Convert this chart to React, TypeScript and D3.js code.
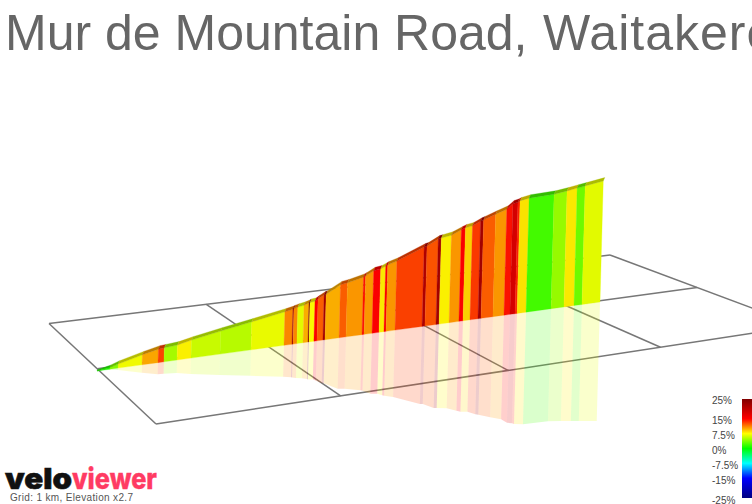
import React from "react";
import * as d3 from "d3";

const WIDTH = 752;
const HEIGHT = 504;

const titleLead = "Mur de Mountain Road,";
const titleTail = "Waitakere";
const gridNote = "Grid: 1 km, Elevation x2.7";
const logoDark = "velo";
const logoPink = "viewer";

// Profile: kilometre mark and elevation (m) at the end of each segment, with its gradient (%)
const segmentEndKm = [
  0.076, 0.124, 0.265, 0.359, 0.394, 0.471, 0.553, 0.724, 0.906, 1.1, 1.147, 1.153, 1.176, 1.212, 1.241,
  1.247, 1.276, 1.294, 1.329, 1.341, 1.424, 1.465, 1.559, 1.571, 1.618, 1.659, 1.688, 1.7, 1.753, 1.912,
  1.929, 1.994, 2.012, 2.071, 2.129, 2.153, 2.194, 2.241, 2.259, 2.329, 2.394, 2.429, 2.459, 2.471, 2.524,
  2.671, 2.747, 2.806, 2.853, 2.959,
];
const segmentEndElevation = [
  4, 8, 20, 27, 28, 30, 36, 46, 56, 67, 70, 71, 73, 75, 78,
  79, 80, 84, 90, 91, 106, 108, 115, 117, 125, 127, 131, 133, 138, 159,
  160, 171, 172, 175, 183, 186, 188, 195, 197, 205, 212, 221, 223, 225, 228,
  229, 232, 235, 237, 242,
];
const segmentGradient = [
  1, 4, 7.2, 10, 13, 5, 7.8, 6, 5.5, 7, 11, 23, 11, 6.8, 9.8,
  25, 7.5, 15, 12.2, 22, 9.8, 12.2, 10.5, 14.5, 10.5, 15, 8, 15, 10.5, 13.1,
  21, 12.5, 22, 7.8, 10.5, 15, 8.7, 13.3, 22, 12.2, 10.5, 14.5, 18, 14, 8.2,
  2, 4.5, 8, 3.3, 6.8,
];

const legendTicks = ["25%", "15%", "7.5%", "0%", "-7.5%", "-15%", "-25%"];
const legendValues = [25, 15, 7.5, 0, -7.5, -15, -25];
const legendColors = ["#800000", "#ff0000", "#ffff00", "#00ff00", "#00ffff", "#0000ff", "#000080"];

const gridColumns = [0, 1, 2, 3, 4];
const gridRows = [0, 1, 2];

const routeLength = segmentEndKm[segmentEndKm.length - 1];
const maxElevation = segmentEndElevation[segmentEndElevation.length - 1];

const xScale = d3.scaleLinear().domain([0, routeLength]).range([97, 600]);
const baseScale = d3.scaleLinear().domain([0, routeLength]).range([371, 302]);
const heightScale = d3.scaleLinear().domain([0, maxElevation]).range([0, 121]);
const colorScale = d3.scaleLinear<string>().domain(legendValues).range(legendColors).interpolate(d3.interpolateRgb);
const legendY = d3.scaleLinear().domain([25, -25]).range([400.5, 500.5]);

// Ground plane: 4 x 2 km grid in perspective
function makeGroundProjection() {
  const [x0, y0, x1, y1, x2, y2, x3, y3] = [49, 323.5, 610, 255, 800, 326, 156, 424];
  const dx1 = x1 - x2, dx2 = x3 - x2, sx = x0 - x1 + x2 - x3;
  const dy1 = y1 - y2, dy2 = y3 - y2, sy = y0 - y1 + y2 - y3;
  const den = dx1 * dy2 - dx2 * dy1;
  const g = (sx * dy2 - dx2 * sy) / den;
  const h = (dx1 * sy - sx * dy1) / den;
  const a = x1 - x0 + g * x1, b = x3 - x0 + h * x3;
  const d = y1 - y0 + g * y1, e = y3 - y0 + h * y3;
  return (col: number, row: number): [number, number] => {
    const u = col / 4, v = row / 2;
    const w = g * u + h * v + 1;
    return [(a * u + b * v + x0) / w, (d * u + e * v + y0) / w];
  };
}
const ground = makeGroundProjection();

const tilt = (h: number) => h * 0.027;

function buildSegments() {
  const polygon = d3.line();
  return segmentEndKm.map((km, i) => {
    const km0 = i === 0 ? 0 : segmentEndKm[i - 1];
    const e0 = i === 0 ? 0 : segmentEndElevation[i - 1];
    const e1 = segmentEndElevation[i];
    const x0 = xScale(km0), x1 = xScale(km);
    const b0 = baseScale(km0), b1 = baseScale(km);
    const h0 = heightScale(e0), h1 = heightScale(e1);
    const t0: [number, number] = [x0 + tilt(h0), b0 - h0];
    const t1: [number, number] = [x1 + tilt(h1), b1 - h1];
    const bandAt = (h: number) => Math.min(1, (h + 2) / 6);
    const color = d3.rgb(colorScale(segmentGradient[i]));
    const wallColor = color.darker(0.06).formatRgb();
    const bandColor = color.darker(0.85).formatRgb();
    const wall = polygon([[x0, b0], t0, t1, [x1, b1]]) + "Z";
    const band = polygon([
      t0,
      [t0[0] + 1.5 * bandAt(h0), t0[1] - 3.4 * bandAt(h0)],
      [t1[0] + 1.5 * bandAt(h1), t1[1] - 3.4 * bandAt(h1)],
      t1,
    ]) + "Z";
    const mirror = polygon([
      [x0, b0],
      [x0 - tilt(h0), b0 + Math.max(0, h0 - 2)],
      [x1 - tilt(h1), b1 + Math.max(0, h1 - 2)],
      [x1, b1],
    ]) + "Z";
    return { wall, band, mirror, wallColor, bandColor, key: i, paleColor: color.formatRgb() };
  });
}

export default function App() {
  const segments = buildSegments();
  const gridLine = d3.line();
  const lines: [number, number][][] = [
    ...gridRows.map((r) => [ground(0, r), ground(4, r)]),
    ...gridColumns.map((c) => [ground(c, 0), ground(c, 2)]),
  ];
  const fontFamily = "'Liberation Sans', Arial, sans-serif";
  const barTop = 399;
  const barBottom = 498;
  return (
    <svg
      width={WIDTH}
      height={HEIGHT}
      viewBox={`0 0 ${WIDTH} ${HEIGHT}`}
      style={{ position: "absolute", left: 0, top: 0, background: "#fff", display: "block" }}
    >
      <defs>
        <linearGradient id="legendGrad" x1="0" y1="0" x2="0" y2="1">
          {legendValues.map((v, i) => (
            <stop key={v} offset={(25 - v) / 50} stopColor={legendColors[i]} />
          ))}
        </linearGradient>
      </defs>
      <text x={5} y={50} fontFamily={fontFamily} fontSize={50} fill="#666">
        {titleLead}
      </text>
      <text x={543} y={50} fontFamily={fontFamily} fontSize={50} fill="#666" letterSpacing={1}>
        {titleTail}
      </text>
      {lines.map((l, i) => (
        <path key={i} d={gridLine(l) ?? ""} fill="none" stroke="#777" strokeWidth={1.5} />
      ))}
      <g>
        {segments.map((s) => (
          <path key={s.key} d={s.mirror} fill={s.paleColor} fillOpacity={0.2} />
        ))}
      </g>
      <g>
        {segments.map((s) => (
          <path key={s.key} d={s.wall} fill={s.wallColor} stroke={s.wallColor} strokeWidth={0.3} />
        ))}
        {segments.map((s) => (
          <path key={s.key} d={s.band} fill={s.bandColor} stroke={s.bandColor} strokeWidth={0.3} />
        ))}
      </g>
      <rect x={742} y={barTop} width={10} height={barBottom - barTop} fill="url(#legendGrad)" />
      {legendTicks.map((t, i) => (
        <text
          key={t}
          x={712}
          y={legendY(legendValues[i])}
          dy="0.35em"
          fontFamily={fontFamily}
          fontSize={10}
          fill="#444"
        >
          {t}
        </text>
      ))}
      <text x={5} y={489} fontFamily="Inter, sans-serif" fontWeight={900} fontSize={29} fill="#111" stroke="#111" strokeWidth={0.6} textLength={67} lengthAdjust="spacingAndGlyphs">
        {logoDark}
      </text>
      <text x={72} y={489} fontFamily="Inter, sans-serif" fontWeight={800} fontSize={29} fill="#ff3b63" stroke="#ff3b63" strokeWidth={0.4} textLength={85} lengthAdjust="spacingAndGlyphs">
        {logoPink}
      </text>
      <text x={10} y={501} fontFamily={fontFamily} fontSize={10} fill="#555" textLength={123}>
        {gridNote}
      </text>
    </svg>
  );
}
